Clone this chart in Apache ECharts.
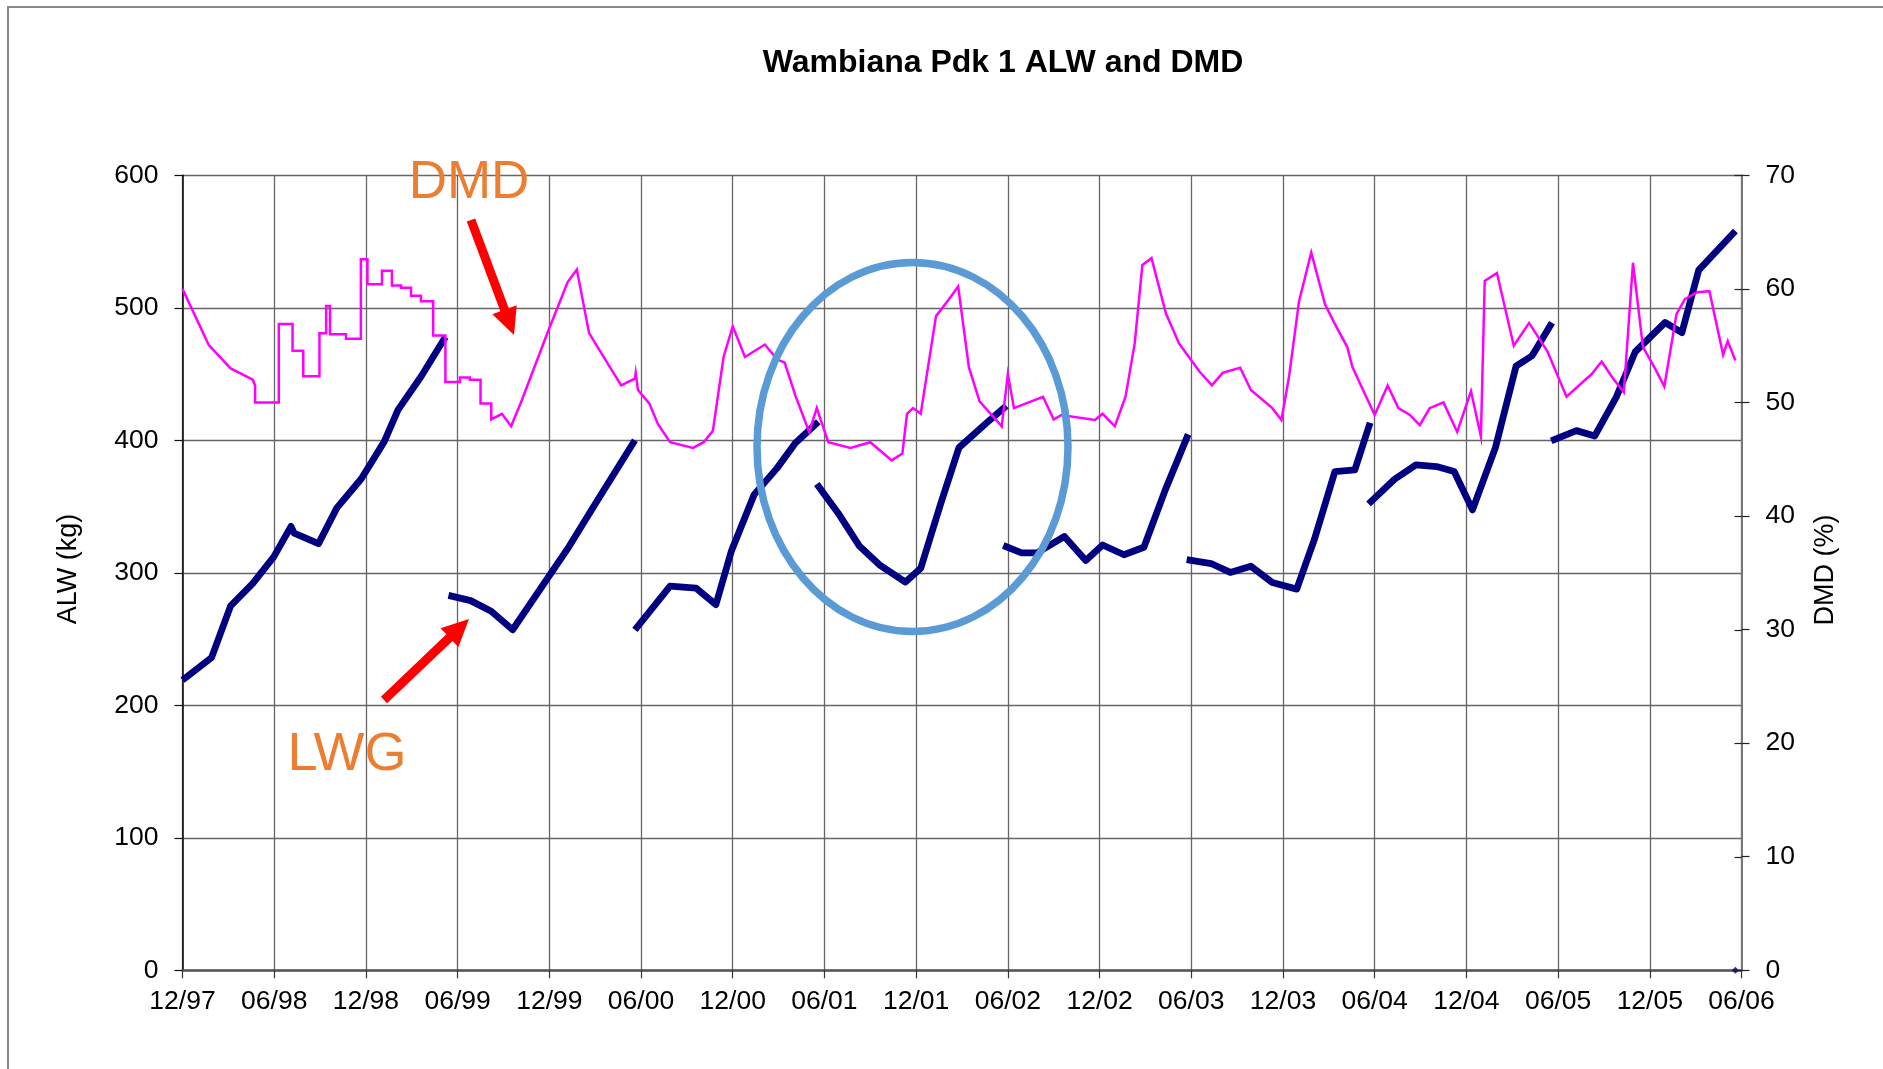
<!DOCTYPE html>
<html>
<head>
<meta charset="utf-8">
<script src="https://cdn.jsdelivr.net/npm/echarts@6/dist/echarts.min.js"></script>
<style>
html,body{margin:0;padding:0;background:#fff;}
#chart{width:1883px;height:1069px;}
</style>
</head>
<body>
<div id="chart"></div>
<script>
// ---- DATA (x = months since Dec 1997) ----
var chartTitle = 'Wambiana Pdk 1 ALW and DMD';
var xTickMonths = [0, 6, 12, 18, 24, 30, 36, 42, 48, 54, 60, 66, 72, 78, 84, 90, 96, 102];
var xTickLabels = ['12/97','06/98','12/98','06/99','12/99','06/00','12/00','06/01','12/01','06/02','12/02','06/03','12/03','06/04','12/04','06/05','12/05','06/06'];
var alwTicks = [0, 100, 200, 300, 400, 500, 600];
var dmdTicks = [0, 10, 20, 30, 40, 50, 60, 70];

// ALW (kg) – separate grazing-year segments (null marks a break)
var alwMonths = [0,1.9,3.15,4.6,5.97,7.1,7.3,8.9,10.1,11.7,13.2,14.1,15.6,17.2, null,
  17.4,18.85,20.2,21.6,25.3,26.9,29.6, null,
  29.6,31.9,33.6,34.9,35.9,37.4,38.9,40.1,41.6, null,
  41.5,42.9,44.3,45.6,47.3,48.3,49.6,50.8,52.6,53.9, null,
  53.7,54.9,55.9,57.7,59.1,60.2,61.6,62.9,64.3,65.8, null,
  65.7,67.3,68.55,69.9,71.3,72.9,74.05,75.4,76.7,77.7, null,
  77.6,79.3,80.7,82.05,83.2,84.4,85.9,87.25,88.3,89.6, null,
  89.55,91.2,92.4,93.8,95.05,97,98.1,99.2,101.6];
var alwKg = [219,236,275,292,312,335,330,322,349,371,399,423,448,478, null,
  283,279,271,257,320,350,400, null,
  257,290,288.5,276,316,359,379,398,414, null,
  367,345,320,306,293,303.5,352,394.5,413,426, null,
  320.6,315,315,327.4,309.3,321,313.6,319.3,362.6,404.5, null,
  310,307,300.3,305,292.7,287.7,325,376.4,377.6,413.3, null,
  352,370.6,381.4,380.2,376.4,347.5,394.5,456,463.8,488.7, null,
  399.5,407.3,403.3,432.4,466.8,488.9,481.2,528.4,558];
var alwZeroPointMonth = [101.6];
var alwZeroPointKg = [0];

// DMD (%)
var dmdMonths = [0,1.72,3.15,4.6,4.75,4.75,6.3,6.3,7.2,7.2,7.9,7.9,8.96,8.96,9.4,9.4,9.65,9.65,10.7,10.7,11.67,11.67,12.1,12.1,13.05,13.05,13.7,13.7,14.3,14.3,14.95,14.95,15.6,15.6,16.4,16.4,17.2,17.2,18.15,18.15,18.8,18.8,19.5,19.5,20.2,20.2,20.9,21.5,22.2,23.9,25.2,25.8,26.6,28.7,29.6,29.65,29.8,30.55,31.1,31.9,33.4,34.1,34.7,35.4,36.0,36.8,38.1,38.9,39.4,40.1,41.0,41.5,42.25,43.7,45.0,46.4,47.1,47.4,47.8,48.3,49.3,50.1,50.75,51.45,52.15,53.6,54.0,54.4,56.3,57.0,57.5,59.7,60.2,61.0,61.7,62.3,62.8,63.4,64.35,65.2,66.55,67.35,68.05,69.2,69.9,71.3,71.9,72.4,73.05,73.85,74.75,75.4,76.2,76.55,78.0,78.85,79.55,80.3,80.95,81.6,82.5,83.4,84.3,84.95,85.2,86.0,87.1,88.1,89.3,90.55,92.2,92.85,93.55,94.3,94.9,95.55,96.4,96.95,97.75,98.3,99.1,99.9,100.8,101.1,101.6];
var dmdPct = [60.0,55.05,53.0,52.0,51.5,50.0,50.0,56.9,56.9,54.55,54.55,52.3,52.3,56.1,56.1,58.5,58.5,56.0,56.0,55.6,55.6,62.6,62.6,60.4,60.4,61.6,61.6,60.3,60.3,60.1,60.1,59.4,59.4,58.9,58.9,55.9,55.9,51.8,51.8,52.2,52.2,52.0,52.0,49.9,49.9,48.5,49.0,47.9,50.2,56.2,60.6,61.7,56.1,51.5,52.1,52.6,51.1,49.9,48.1,46.5,46.0,46.5,47.5,54.0,56.7,54.0,55.1,53.8,53.5,50.6,47.4,49.5,46.5,46.0,46.5,44.9,45.5,49.0,49.5,49.0,57.6,59.0,60.2,53.1,50.1,47.9,52.5,49.5,50.5,48.5,48.9,48.45,49.0,47.9,50.5,55.2,62.1,62.7,57.8,55.2,52.7,51.5,52.6,53.05,51.1,49.5,48.45,52.3,58.9,63.2,58.65,56.9,54.9,53.1,48.9,51.5,49.5,48.9,48.0,49.5,50.0,47.4,51.0,47.0,60.7,61.4,55.0,57.0,54.5,50.5,52.5,53.6,52.2,50.9,62.3,54.9,52.85,51.4,57.8,59.1,59.7,59.8,54.2,55.4,53.7];

// ---- BUILD ----
var alwData = alwMonths.map(function (m, i) {
  return alwKg[i] == null ? [alwMonths[i - 1], '-'] : [m, alwKg[i]];
});
var dmdData = dmdMonths.map(function (m, i) { return [m, dmdPct[i]]; });
var zeroData = alwZeroPointMonth.map(function (m, i) { return [m, alwZeroPointKg[i]]; });

var FONT = "'Liberation Sans', Arial, sans-serif";
var gridL = 182.5, gridR = 141.5, gridT = 175.3, gridB = 98.7;

function xLabel(v) {
  var idx = xTickMonths.indexOf(Math.round(v));
  return idx >= 0 ? xTickLabels[idx] : '';
}

function arrowPoints(x0, y0, x1, y1, w, hl, hw) {
  var dx = x1 - x0, dy = y1 - y0, L = Math.sqrt(dx * dx + dy * dy);
  var ux = dx / L, uy = dy / L, px = -uy, py = ux;
  var bx = x1 - ux * hl, by = y1 - uy * hl;
  return [
    [x0 + px * w / 2, y0 + py * w / 2],
    [bx + px * w / 2, by + py * w / 2],
    [bx + px * hw, by + py * hw],
    [x1, y1],
    [bx - px * hw, by - py * hw],
    [bx - px * w / 2, by - py * w / 2],
    [x0 - px * w / 2, y0 - py * w / 2]
  ];
}

var chart = echarts.init(document.getElementById('chart'), null, { renderer: 'canvas' });
var labelStyle = { color: '#000', fontFamily: FONT, fontSize: 26.5 };

var baseGraphics = [
  { type: 'rect', z: -10, silent: true, shape: { x: 8, y: 7, width: 2000, height: 2000 },
    style: { fill: 'none', stroke: '#888', lineWidth: 2 } },
  { type: 'text', z: 50, x: 1003, y: 63,
    style: { text: chartTitle, fontFamily: FONT, fontSize: 32, fontWeight: 'bold', fill: '#000', align: 'center', verticalAlign: 'middle' } },
  { type: 'text', z: 50, x: 69, y: 569, rotation: Math.PI / 2,
    style: { text: 'ALW (kg)', fontFamily: FONT, fontSize: 27, fill: '#000', align: 'center', verticalAlign: 'middle' } },
  { type: 'text', z: 50, x: 1826, y: 570, rotation: Math.PI / 2,
    style: { text: 'DMD (%)', fontFamily: FONT, fontSize: 27, fill: '#000', align: 'center', verticalAlign: 'middle' } },
  { type: 'ellipse', z: 100, shape: { cx: 912.5, cy: 447, rx: 155.5, ry: 184.5 },
    style: { fill: 'none', stroke: '#5B9BD5', lineWidth: 7.5 } },
  { type: 'text', z: 100, x: 469, y: 183,
    style: { text: 'DMD', fontFamily: FONT, fontSize: 53, fill: '#ED7D31', align: 'center', verticalAlign: 'middle' } },
  { type: 'text', z: 100, x: 347, y: 755,
    style: { text: 'LWG', fontFamily: FONT, fontSize: 54, fill: '#ED7D31', align: 'center', verticalAlign: 'middle' } },
  { type: 'polygon', z: 100, shape: { points: arrowPoints(471, 220, 514, 335, 9, 27, 13) },
    style: { fill: '#FF0000', stroke: 'none' } },
  { type: 'polygon', z: 100, shape: { points: arrowPoints(384, 700, 469, 619, 9, 27, 13) },
    style: { fill: '#FF0000', stroke: 'none' } }
];

var option = {
  animation: false,
  backgroundColor: '#fff',
  grid: { left: gridL, right: gridR, top: gridT, bottom: gridB, containLabel: false, show: false },
  xAxis: {
    type: 'value', min: 0, max: 102, interval: 6,
    axisLine: { show: true, onZero: false, lineStyle: { color: '#555', width: 2.5 } },
    axisTick: { show: true, inside: false, length: 8, lineStyle: { color: '#333', width: 1.2 } },
    axisLabel: Object.assign({ margin: 18, formatter: xLabel, showMinLabel: true, showMaxLabel: true }, labelStyle),
    splitLine: { show: true, lineStyle: { color: '#666', width: 1.3 } }
  },
  yAxis: [
    {
      type: 'value', min: 0, max: 600, interval: 100, position: 'left',
      axisLine: { show: true, onZero: false, lineStyle: { color: '#111', width: 1.6 } },
      axisTick: { show: true, inside: false, length: 8, lineStyle: { color: '#111', width: 1.2 } },
      axisLabel: Object.assign({ margin: 24, formatter: function (v) { return alwTicks.indexOf(v) >= 0 ? String(v) : ''; } }, labelStyle),
      splitLine: { show: true, lineStyle: { color: '#666', width: 1.3 } }
    },
    {
      type: 'value', min: 0, max: 70, interval: 10, position: 'right',
      axisLine: { show: true, onZero: false, lineStyle: { color: '#777', width: 2 } },
      axisTick: { show: true, inside: false, length: 8, lineStyle: { color: '#222', width: 1.2 } },
      axisLabel: Object.assign({ margin: 24, formatter: function (v) { return dmdTicks.indexOf(v) >= 0 ? String(v) : ''; } }, labelStyle),
      splitLine: { show: false }
    }
  ],
  series: [
    {
      name: 'ALW', type: 'line', xAxisIndex: 0, yAxisIndex: 0,
      data: alwData, connectNulls: false, symbol: 'none', showSymbol: false,
      lineStyle: { color: '#000080', width: 6.8, cap: 'butt', join: 'round' },
      z: 2
    },
    {
      name: 'DMD', type: 'line', xAxisIndex: 0, yAxisIndex: 1,
      data: dmdData, symbol: 'none', showSymbol: false,
      lineStyle: { color: '#FF00FF', width: 2.5, join: 'miter' },
      z: 3
    },
    {
      name: 'ALWpt', type: 'scatter', xAxisIndex: 0, yAxisIndex: 0,
      data: zeroData, symbol: 'diamond', symbolSize: 7,
      itemStyle: { color: '#000080' }, z: 4
    }
  ],
  graphic: baseGraphics
};
chart.setOption(option);

// inner half of the crossing tick marks on the right (DMD) axis
var rightX = chart.convertToPixel({ xAxisIndex: 0 }, 102);
var innerTicks = dmdTicks.map(function (v) {
  var y = Math.round(chart.convertToPixel({ yAxisIndex: 1 }, v)) + 0.5;
  return { type: 'line', z: 60, shape: { x1: rightX - 7, y1: y, x2: rightX, y2: y },
    style: { stroke: '#222', lineWidth: 1.2 } };
});
chart.setOption({ graphic: baseGraphics.concat(innerTicks) });
</script>
</body>
</html>
